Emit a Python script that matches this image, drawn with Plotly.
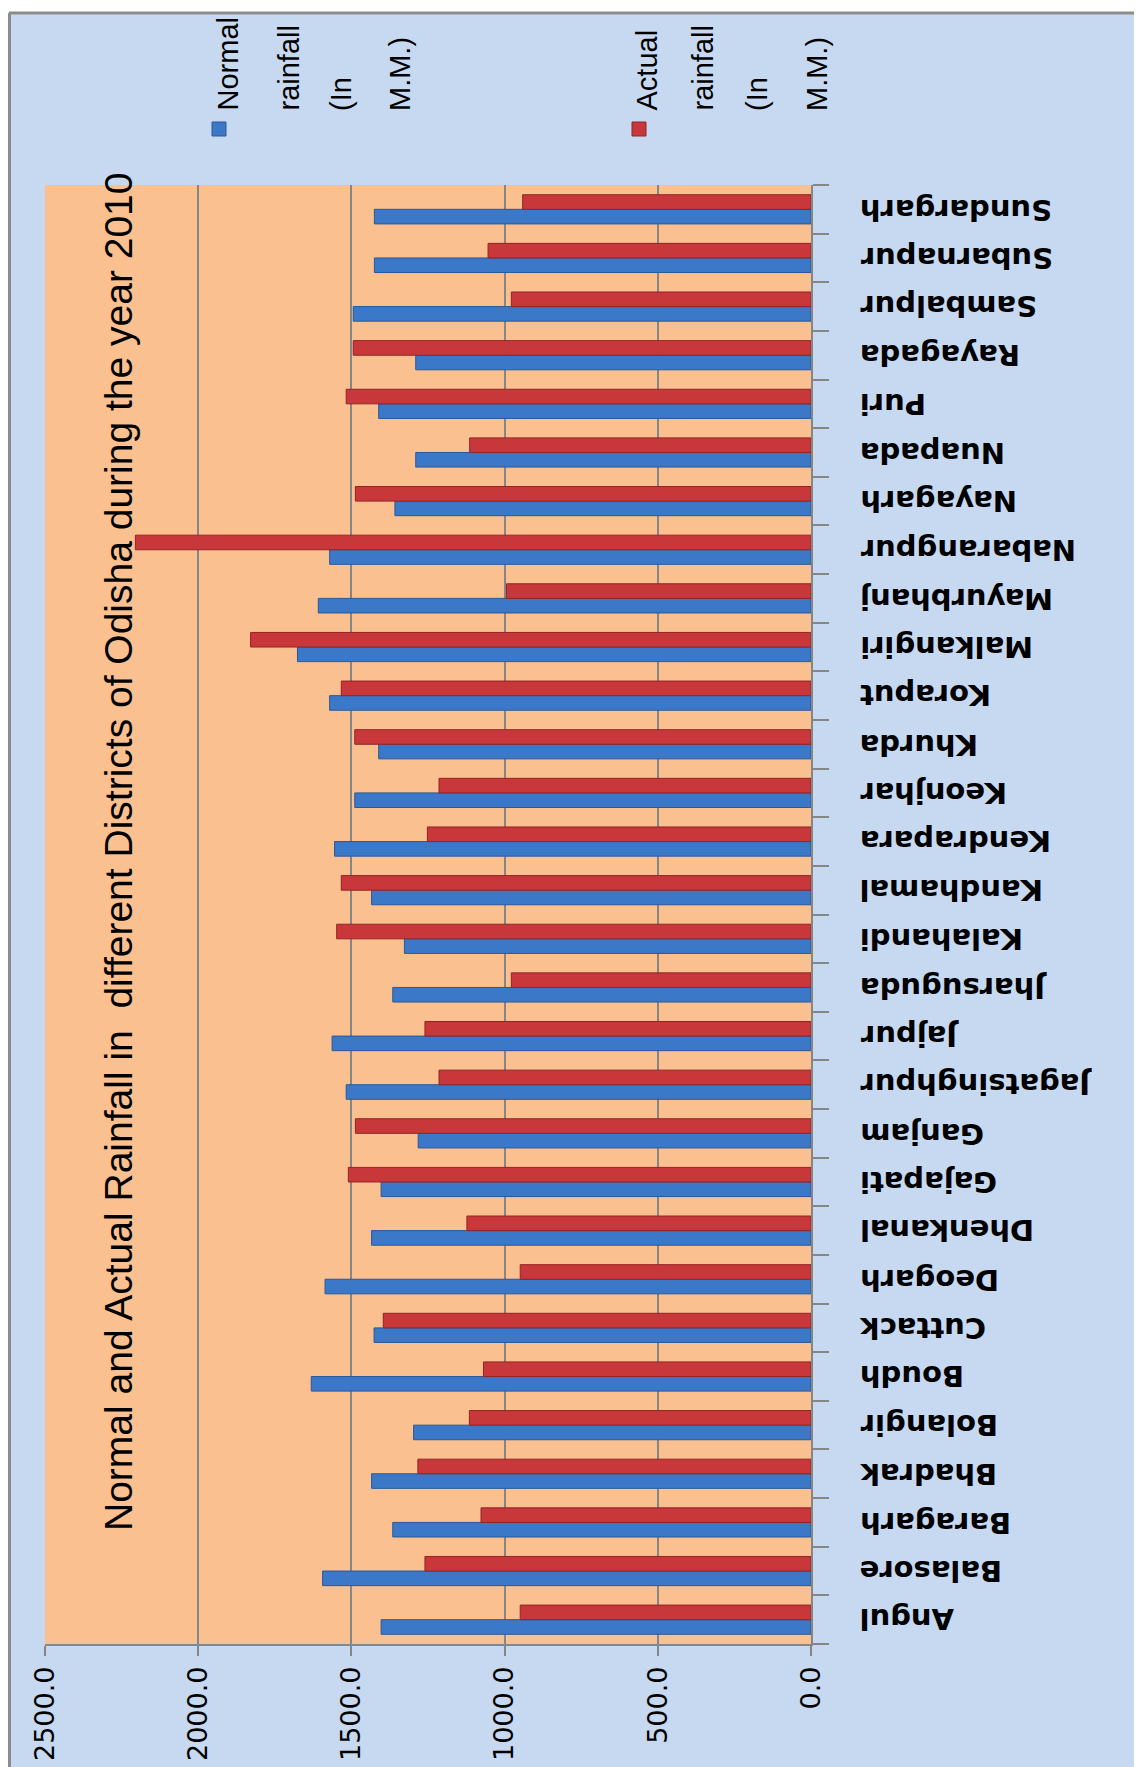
import plotly.graph_objects as go

# === Data (mm) ===
districts = ["Angul", "Balasore", "Baragarh", "Bhadrak", "Bolangir", "Boudh", "Cuttack",
             "Deogarh", "Dhenkanal", "Gajapati", "Ganjam", "Jagatsinghpur", "Jajpur",
             "Jharsuguda", "Kalahandi", "Kandhamal", "Kendrapara", "Keonjhar", "Khurda",
             "Koraput", "Malkangiri", "Mayurbhanj", "Nabarangpur", "Nayagarh", "Nuapada",
             "Puri", "Rayagada", "Sambalpur", "Subarnapur", "Sundargarh"]
normal_rain = [1403, 1594, 1365, 1434, 1297, 1631, 1426, 1586, 1434, 1403, 1282, 1517, 1563,
               1365, 1327, 1434, 1555, 1489, 1411, 1571, 1676, 1608, 1571, 1358, 1290,
               1411, 1290, 1494, 1425, 1425]
actual_rain = [949, 1260, 1077, 1283, 1115, 1069, 1396, 949, 1123, 1510, 1487, 1214, 1260,
               978, 1548, 1533, 1252, 1214, 1489, 1533, 1829, 994, 2205, 1487, 1114,
               1517, 1494, 978, 1054, 941]
x_ticks = [0, 500, 1000, 1500, 2000, 2500]

title_text = "Normal and Actual Rainfall in&nbsp; different Districts of Odisha during the year 2010"
legend_normal = ["Normal", "rainfall", "(In", "M.M.)"]
legend_actual = ["Actual", "rainfall", "(In", "M.M.)"]

# === Geometry: page px, the plot div sits 8px in from the page corner ===
OFF = 8
W, H = 1142 - OFF, 1767 - OFF
PL, PR, PT, PB = 45, 811, 185, 1644   # plot area on the page


def px_x(p):
    return (p - PL) / (PR - PL)


def px_y(p):
    return (PB - p) / (PB - PT)


BG = "#C6D9F1"
GRID = "#868686"

fig = go.Figure()
fig.add_trace(go.Bar(x=normal_rain, y=districts, orientation="h", name="Normal rainfall (In M.M.)",
                     marker=dict(color="#3B78C8", line=dict(color="#2A5899", width=1))))
fig.add_trace(go.Bar(x=actual_rain, y=districts, orientation="h", name="Actual rainfall (In M.M.)",
                     marker=dict(color="#C8383A", line=dict(color="#922426", width=1))))

# category labels, upside down like the source
for d in districts:
    fig.add_annotation(x=px_x(858), xref="paper", y=d, yref="y", text=d, showarrow=False,
                       xanchor="left", yanchor="middle", textangle=180,
                       font=dict(family="DejaVu Sans", size=29, color="black", weight="bold"))

# title, rotated
fig.add_annotation(x=px_x(118), xref="paper", y=px_y(852), yref="paper", text=title_text,
                   showarrow=False, textangle=-90, xanchor="center", yanchor="middle",
                   font=dict(family="Liberation Sans", size=39, color="black"))

# legend drawn by hand (rotated text)
leg_font = dict(family="Liberation Sans", size=29, color="black")
for xs, lines in (([228, 289, 341, 400], legend_normal), ([647, 703, 757, 817], legend_actual)):
    for xc, t in zip(xs, lines):
        fig.add_annotation(x=px_x(xc), xref="paper", y=px_y(113), yref="paper", text=t,
                           showarrow=False, textangle=-90, xanchor="center", yanchor="bottom",
                           font=leg_font)

shapes = [
    # white strip + border round the chart area
    dict(type="rect", xref="paper", yref="paper", x0=px_x(0), x1=px_x(1142), y0=px_y(13), y1=px_y(0),
         fillcolor="white", line=dict(width=0), layer="below"),
    dict(type="line", xref="paper", yref="paper", x0=px_x(9), x1=px_x(1142), y0=px_y(13), y1=px_y(13),
         line=dict(color="#8C8C8C", width=3)),
    dict(type="line", xref="paper", yref="paper", x0=px_x(9.5), x1=px_x(9.5), y0=px_y(1767), y1=px_y(13),
         line=dict(color="#8C8C8C", width=3)),
    # legend keys
    dict(type="rect", xref="paper", yref="paper", x0=px_x(212), x1=px_x(226), y0=px_y(136), y1=px_y(122),
         fillcolor="#3B78C8", line=dict(color="#2A5899", width=1)),
    dict(type="rect", xref="paper", yref="paper", x0=px_x(632), x1=px_x(646), y0=px_y(136), y1=px_y(122),
         fillcolor="#C8383A", line=dict(color="#922426", width=1)),
]

fig.update_layout(
    width=W, height=H,
    margin=dict(l=PL - OFF, r=W - (PR - OFF), t=PT - OFF, b=H - (PB - OFF), autoexpand=False),
    paper_bgcolor=BG,
    plot_bgcolor="#FAC090",
    barmode="group",
    bargap=0.4,
    bargroupgap=0,
    showlegend=False,
    shapes=shapes,
    xaxis=dict(range=[2500, 0], tickvals=x_ticks, tickformat=".1f", tickangle=-90,
               showgrid=True, gridcolor=GRID, gridwidth=1.5, zeroline=False,
               showline=True, linecolor=GRID, linewidth=1.5,
               ticks="outside", ticklen=10, tickcolor=GRID, tickwidth=1.5,
               tickfont=dict(family="DejaVu Sans", size=27, color="black")),
    yaxis=dict(side="right", showticklabels=False, showgrid=False, zeroline=False,
               showline=True, linecolor=GRID, linewidth=1.5,
               ticks="outside", ticklen=16, tickson="boundaries", tickcolor=GRID, tickwidth=1.5,
               range=[-0.5, len(districts) - 0.5]),
)

fig.write_html("out.html")
